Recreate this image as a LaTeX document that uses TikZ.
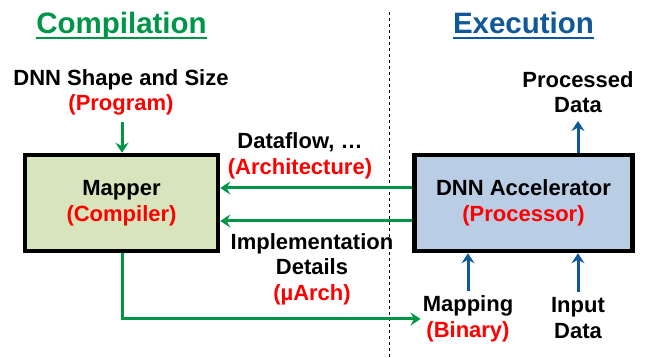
\documentclass[tikz,border=0pt]{standalone}
\usepackage{fontspec}
\setmainfont{Liberation Sans}
\usetikzlibrary{arrows.meta}
\definecolor{cgreen}{RGB}{0,150,72}
\definecolor{cblue}{RGB}{16,88,152}
\definecolor{cred}{RGB}{255,0,0}
\definecolor{mapfill}{RGB}{216,228,188}
\definecolor{accfill}{RGB}{185,205,229}
\tikzset{
  lbl/.style={font=\fontsize{22}{25.5}\selectfont\bfseries, align=center, inner sep=2pt},
  ttl/.style={font=\fontsize{29.5}{32}\selectfont\bfseries, anchor=base, inner sep=0pt},
  bigbox/.style={draw=black, line width=4.5pt, minimum width=193pt, minimum height=96pt, align=center,
     font=\fontsize{22}{25.5}\selectfont\bfseries},
  garrow/.style={draw=cgreen, line width=3pt, -{Stealth[length=10pt,width=13pt,inset=3.5pt]}},
  barrow/.style={draw=cblue, line width=3pt, -{Stealth[length=10pt,width=13pt,inset=3.5pt]}},
  rd/.style={color=cred}
}
\begin{document}
\begin{tikzpicture}[x=1pt,y=-1pt]
\useasboundingbox (0,0) rectangle (646,358);
% divider
\draw[dashed, line width=0.8pt] (389,12) -- (389,358);
% titles
\node[ttl, text=cgreen] (tcomp) at (121.5,34) {Compilation};
\node[ttl, text=cblue] (texec) at (523.5,34) {Execution};
\draw[cgreen, line width=1.6pt] ([yshift=-4pt]tcomp.base west) -- ([yshift=-4pt]tcomp.base east);
\draw[cblue, line width=1.6pt] ([yshift=-4pt]texec.base west) -- ([yshift=-4pt]texec.base east);
% boxes
\node[bigbox, fill=mapfill] (mapper) at (121.5,203) {Mapper\\\textcolor{cred}{(Compiler)}};
\node[bigbox, fill=accfill, minimum width=218pt] (accel) at (523.5,203) {DNN Accelerator\\\textcolor{cred}{(Processor)}};
% labels
\node[lbl] (prog) at (121,92.5) {DNN Shape and Size\\\textcolor{cred}{(Program)}};
\node[lbl] (df) at (300,156) {Dataflow, …\\\textcolor{cred}{(Architecture)}};
\node[lbl] (impl) at (312,269) {Implementation\\Details\\\textcolor{cred}{(µArch)}};
\node[lbl] (map) at (468,319) {Mapping\\\textcolor{cred}{(Binary)}};
\node[lbl] (inp) at (578,318) {Input\\Data};
\node[lbl] (proc) at (578,92) {Processed\\Data};
% arrows
\draw[garrow, shorten <=4pt] (prog.south -| 122,0) -- (mapper.north -| 122,0);
\draw[garrow] ([yshift=15pt]accel.west) -- ([yshift=15pt]mapper.east);
\draw[garrow] ([yshift=-18pt]accel.west) -- ([yshift=-18pt]mapper.east);
\draw[garrow] (mapper.south -| 122,0) |- (map.west);
\draw[barrow, shorten <=3pt] (map.north) -- (map.north |- accel.south);
\draw[barrow, shorten <=3pt] (inp.north) -- (inp.north |- accel.south);
\draw[barrow, shorten >=6pt] (accel.north -| proc.south) -- (proc.south);
\end{tikzpicture}
\end{document}
